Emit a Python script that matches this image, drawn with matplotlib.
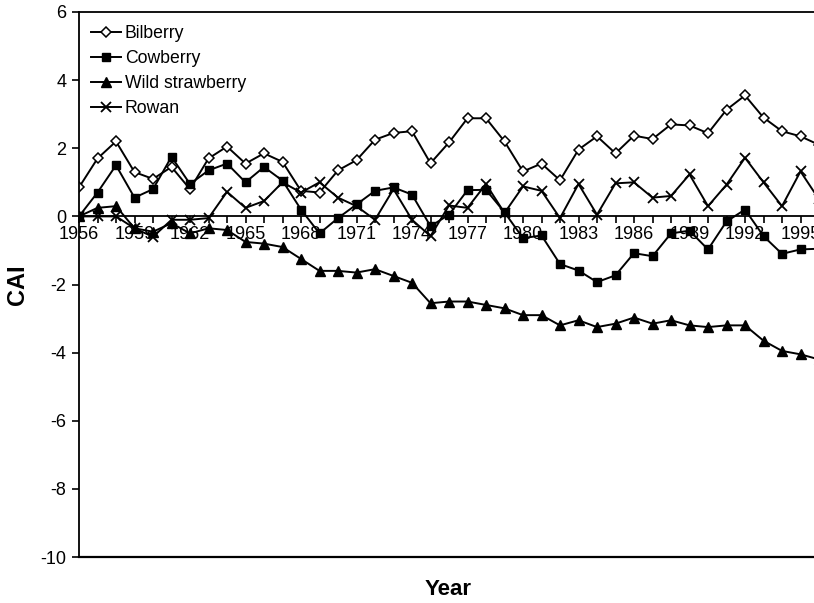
import numpy as np
import matplotlib
matplotlib.use('Agg')
import matplotlib.pyplot as plt
from matplotlib.ticker import MultipleLocator

plt.rcParams['font.family'] = ['Liberation Sans', 'DejaVu Sans']
plt.rcParams['axes.unicode_minus'] = False

years = list(range(1956, 1997))

bilberry = [0.85, 1.7, 2.2, 1.3, 1.1, 1.45, 0.8, 1.7, 2.05, 1.55,
            1.85, 1.6, 0.75, 0.7, 1.35, 1.65, 2.25, 2.45, 2.5, 1.56,
            2.17, 2.88, 2.88, 2.2, 1.32, 1.55, 1.06, 1.96, 2.35, 1.85,
            2.37, 2.27, 2.7, 2.67, 2.44, 3.13, 3.55, 2.9, 2.5, 2.35,
            2.1]
cowberry = [0.0, 0.7, 1.5, 0.55, 0.8, 1.75, 0.95, 1.35, 1.55, 1.0,
            1.45, 1.05, 0.2, -0.5, -0.05, 0.35, 0.75, 0.85, 0.64, -0.29,
            0.05, 0.77, 0.78, 0.12, -0.64, -0.56, -1.4, -1.59, -1.93, -1.73,
            -1.08, -1.17, -0.5, -0.42, -0.97, -0.15, 0.2, -0.58, -1.1, -0.97,
            -0.95]
wild_strawberry = [0.0, 0.25, 0.3, -0.35, -0.45, -0.2, -0.5, -0.35, -0.4, -0.75,
                   -0.8, -0.9, -1.25, -1.6, -1.6, -1.65, -1.55, -1.75, -1.95, -2.55,
                   -2.5, -2.5, -2.6, -2.7, -2.9, -2.9, -3.2, -3.05, -3.25, -3.15,
                   -2.97, -3.15, -3.05, -3.2, -3.25, -3.2, -3.2, -3.65, -3.95, -4.05,
                   -4.2]
rowan = [0.0, 0.0, 0.0, -0.35, -0.6, -0.1, -0.1, -0.05, 0.72, 0.25,
         0.45, 1.0, 0.7, 1.0, 0.55, 0.3, -0.1, 0.8, -0.1, -0.58,
         0.32, 0.25, 0.95, 0.1, 0.88, 0.75, -0.05, 0.95, 0.05, 0.97,
         1.0, 0.55, 0.6, 1.23, 0.3, 0.93, 1.72, 1.0, 0.3, 1.32,
         0.5]

fig = plt.figure(figsize=(8.14, 6.03), dpi=100)
ax = fig.add_axes([79 / 814, 46 / 603, 1 - 79 / 814, 545 / 603])

kw = dict(color='black', linewidth=1.4, clip_on=True)
ax.plot(years, bilberry, marker='D', markersize=5.5, markerfacecolor='white',
        markeredgecolor='black', markeredgewidth=1.1, label='Bilberry', **kw)
ax.plot(years, cowberry, marker='s', markersize=6, label='Cowberry', **kw)
ax.plot(years, wild_strawberry, marker='^', markersize=6.5, label='Wild strawberry', **kw)
ax.plot(years, rowan, marker='x', markersize=7, markeredgewidth=1.3, label='Rowan', **kw)

ax.set_xlim(1956, 1956 + (814 - 79) / 18.5)
ax.set_ylim(-10, 6)

ax.spines['right'].set_visible(False)
ax.spines['bottom'].set_position(('data', 0))
for s in ['left', 'top', 'bottom']:
    ax.spines[s].set_linewidth(1.3)
# frame line at bottom
ax.plot([0, 1], [0, 0], transform=ax.transAxes, color='black', linewidth=1.6, clip_on=False)

ax.xaxis.set_major_locator(MultipleLocator(3))
ax.xaxis.set_minor_locator(MultipleLocator(1))
ax.yaxis.set_major_locator(MultipleLocator(2))
ax.tick_params(axis='x', which='both', direction='out', length=5, width=1.2, labelsize=13, pad=2)
ax.tick_params(axis='y', direction='out', length=5, width=1.2, labelsize=13, pad=4)
ax.set_xticks(range(1956, 1997, 3))
ax.set_xticklabels([str(y) for y in range(1956, 1997, 3)])

ax.set_ylabel('CAI', fontsize=17, fontweight='bold')
ax.yaxis.set_label_coords(-0.068, 0.5)
fig.text(0.551, 0.022, 'Year', fontsize=16, fontweight='bold', ha='center', va='center')

ax.legend(loc='upper left', bbox_to_anchor=(0.0, 0.998), frameon=False, fontsize=12.7,
          handlelength=1.7, handletextpad=0.2, labelspacing=0.45, borderaxespad=0.3)

fig.savefig('out.png', dpi=100)
